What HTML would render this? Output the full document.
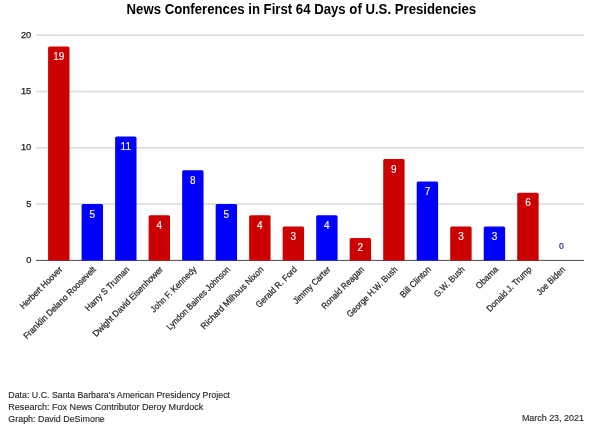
<!DOCTYPE html>
<html><head><meta charset="utf-8"><style>
html,body{margin:0;padding:0;background:#fff;}
body{width:600px;height:428px;overflow:hidden;position:relative;}
svg{position:absolute;left:0;top:0;will-change:transform;}
text{font-family:"Liberation Sans",sans-serif;}
.title{font-size:13.8px;font-weight:bold;fill:#000;}
.yl{font-size:9.3px;fill:#222;stroke:#222;stroke-width:0.25px;}
.vl{font-size:10px;fill:#fff;stroke:#fff;stroke-width:0.12px;}
.vl0{font-size:9.6px;fill:#50509c;font-weight:bold;}
.xl{font-size:8.9px;fill:#2a2a2a;stroke:#2a2a2a;stroke-width:0.25px;}
.ft{font-size:9.4px;fill:#2a2a2a;stroke:#2a2a2a;stroke-width:0.15px;}
</style></head><body>
<svg width="600" height="428" viewBox="0 0 600 428">
<text class="title" x="126.6" y="13.7" textLength="349.5" lengthAdjust="spacingAndGlyphs">News Conferences in First 64 Days of U.S. Presidencies</text>
<rect x="36" y="203.30" width="548" height="1.6" fill="#dcdcdc"/>
<rect x="36" y="147.00" width="548" height="1.6" fill="#dcdcdc"/>
<rect x="36" y="90.70" width="548" height="1.6" fill="#dcdcdc"/>
<rect x="36" y="34.40" width="548" height="1.6" fill="#dcdcdc"/>
<text class="yl" x="31.3" y="262.90" text-anchor="end">0</text>
<text class="yl" x="31.3" y="206.60" text-anchor="end">5</text>
<text class="yl" x="31.3" y="150.30" text-anchor="end">10</text>
<text class="yl" x="31.3" y="94.00" text-anchor="end">15</text>
<text class="yl" x="31.3" y="37.70" text-anchor="end">20</text>
<rect x="36" y="259.90" width="548" height="1" fill="#4a4a4a"/>
<path d="M48.10 260.60 V47.96 Q48.10 46.46 49.60 46.46 H68.00 Q69.50 46.46 69.50 47.96 V260.60 Z" fill="#cc0000"/>
<text class="vl" x="58.80" y="59.96" text-anchor="middle">19</text>
<text class="xl" x="63.00" y="270.00" text-anchor="end" textLength="56.00" lengthAdjust="spacingAndGlyphs" transform="rotate(-45 63.00 270.00)">Herbert Hoover</text>
<path d="M81.61 260.60 V205.60 Q81.61 204.10 83.11 204.10 H101.51 Q103.01 204.10 103.01 205.60 V260.60 Z" fill="#0000ff"/>
<text class="vl" x="92.31" y="217.60" text-anchor="middle">5</text>
<text class="xl" x="96.51" y="270.00" text-anchor="end" textLength="98.38" lengthAdjust="spacingAndGlyphs" transform="rotate(-45 96.51 270.00)">Franklin Delano Roosevelt</text>
<path d="M115.12 260.60 V138.04 Q115.12 136.54 116.62 136.54 H135.02 Q136.52 136.54 136.52 138.04 V260.60 Z" fill="#0000ff"/>
<text class="vl" x="125.82" y="150.04" text-anchor="middle">11</text>
<text class="xl" x="130.02" y="270.00" text-anchor="end" textLength="58.63" lengthAdjust="spacingAndGlyphs" transform="rotate(-45 130.02 270.00)">Harry S Truman</text>
<path d="M148.63 260.60 V216.86 Q148.63 215.36 150.13 215.36 H168.53 Q170.03 215.36 170.03 216.86 V260.60 Z" fill="#cc0000"/>
<text class="vl" x="159.33" y="228.86" text-anchor="middle">4</text>
<text class="xl" x="163.53" y="270.00" text-anchor="end" textLength="95.28" lengthAdjust="spacingAndGlyphs" transform="rotate(-45 163.53 270.00)">Dwight David Eisenhower</text>
<path d="M182.14 260.60 V171.82 Q182.14 170.32 183.64 170.32 H202.04 Q203.54 170.32 203.54 171.82 V260.60 Z" fill="#0000ff"/>
<text class="vl" x="192.84" y="183.82" text-anchor="middle">8</text>
<text class="xl" x="197.04" y="270.00" text-anchor="end" textLength="60.70" lengthAdjust="spacingAndGlyphs" transform="rotate(-45 197.04 270.00)">John F. Kennedy</text>
<path d="M215.65 260.60 V205.60 Q215.65 204.10 217.15 204.10 H235.55 Q237.05 204.10 237.05 205.60 V260.60 Z" fill="#0000ff"/>
<text class="vl" x="226.35" y="217.60" text-anchor="middle">5</text>
<text class="xl" x="230.55" y="270.00" text-anchor="end" textLength="85.47" lengthAdjust="spacingAndGlyphs" transform="rotate(-45 230.55 270.00)">Lyndon Baines Johnson</text>
<path d="M249.16 260.60 V216.86 Q249.16 215.36 250.66 215.36 H269.06 Q270.56 215.36 270.56 216.86 V260.60 Z" fill="#cc0000"/>
<text class="vl" x="259.86" y="228.86" text-anchor="middle">4</text>
<text class="xl" x="264.06" y="270.00" text-anchor="end" textLength="84.46" lengthAdjust="spacingAndGlyphs" transform="rotate(-45 264.06 270.00)">Richard Milhous Nixon</text>
<path d="M282.67 260.60 V228.12 Q282.67 226.62 284.17 226.62 H302.57 Q304.07 226.62 304.07 228.12 V260.60 Z" fill="#cc0000"/>
<text class="vl" x="293.37" y="240.12" text-anchor="middle">3</text>
<text class="xl" x="297.57" y="270.00" text-anchor="end" textLength="54.01" lengthAdjust="spacingAndGlyphs" transform="rotate(-45 297.57 270.00)">Gerald R. Ford</text>
<path d="M316.18 260.60 V216.86 Q316.18 215.36 317.68 215.36 H336.08 Q337.58 215.36 337.58 216.86 V260.60 Z" fill="#0000ff"/>
<text class="vl" x="326.88" y="228.86" text-anchor="middle">4</text>
<text class="xl" x="331.08" y="270.00" text-anchor="end" textLength="48.91" lengthAdjust="spacingAndGlyphs" transform="rotate(-45 331.08 270.00)">Jimmy Carter</text>
<path d="M349.69 260.60 V239.38 Q349.69 237.88 351.19 237.88 H369.59 Q371.09 237.88 371.09 239.38 V260.60 Z" fill="#cc0000"/>
<text class="vl" x="360.39" y="251.38" text-anchor="middle">2</text>
<text class="xl" x="364.59" y="270.00" text-anchor="end" textLength="56.04" lengthAdjust="spacingAndGlyphs" transform="rotate(-45 364.59 270.00)">Ronald Reagan</text>
<path d="M383.20 260.60 V160.56 Q383.20 159.06 384.70 159.06 H403.10 Q404.60 159.06 404.60 160.56 V260.60 Z" fill="#cc0000"/>
<text class="vl" x="393.90" y="172.56" text-anchor="middle">9</text>
<text class="xl" x="398.10" y="270.00" text-anchor="end" textLength="67.65" lengthAdjust="spacingAndGlyphs" transform="rotate(-45 398.10 270.00)">George H.W. Bush</text>
<path d="M416.71 260.60 V183.08 Q416.71 181.58 418.21 181.58 H436.61 Q438.11 181.58 438.11 183.08 V260.60 Z" fill="#0000ff"/>
<text class="vl" x="427.41" y="195.08" text-anchor="middle">7</text>
<text class="xl" x="431.61" y="270.00" text-anchor="end" textLength="39.82" lengthAdjust="spacingAndGlyphs" transform="rotate(-45 431.61 270.00)">Bill Clinton</text>
<path d="M450.22 260.60 V228.12 Q450.22 226.62 451.72 226.62 H470.12 Q471.62 226.62 471.62 228.12 V260.60 Z" fill="#cc0000"/>
<text class="vl" x="460.92" y="240.12" text-anchor="middle">3</text>
<text class="xl" x="465.12" y="270.00" text-anchor="end" textLength="39.12" lengthAdjust="spacingAndGlyphs" transform="rotate(-45 465.12 270.00)">G.W. Bush</text>
<path d="M483.73 260.60 V228.12 Q483.73 226.62 485.23 226.62 H503.63 Q505.13 226.62 505.13 228.12 V260.60 Z" fill="#0000ff"/>
<text class="vl" x="494.43" y="240.12" text-anchor="middle">3</text>
<text class="xl" x="498.63" y="270.00" text-anchor="end" textLength="27.53" lengthAdjust="spacingAndGlyphs" transform="rotate(-45 498.63 270.00)">Obama</text>
<path d="M517.24 260.60 V194.34 Q517.24 192.84 518.74 192.84 H537.14 Q538.64 192.84 538.64 194.34 V260.60 Z" fill="#cc0000"/>
<text class="vl" x="527.94" y="206.34" text-anchor="middle">6</text>
<text class="xl" x="532.14" y="270.00" text-anchor="end" textLength="59.75" lengthAdjust="spacingAndGlyphs" transform="rotate(-45 532.14 270.00)">Donald J. Trump</text>
<text class="vl0" x="561.45" y="248.90" text-anchor="middle">0</text>
<text class="xl" x="565.65" y="270.00" text-anchor="end" textLength="36.39" lengthAdjust="spacingAndGlyphs" transform="rotate(-45 565.65 270.00)">Joe Biden</text>
<text class="ft" x="8.3" y="398.4" textLength="221.7" lengthAdjust="spacingAndGlyphs">Data: U.C. Santa Barbara's American Presidency Project</text>
<text class="ft" x="8.3" y="410.1" textLength="195" lengthAdjust="spacingAndGlyphs">Research: Fox News Contributor Deroy Murdock</text>
<text class="ft" x="8.3" y="422.2" textLength="96.5" lengthAdjust="spacingAndGlyphs">Graph: David DeSimone</text>
<text class="ft" x="521.9" y="420.9" textLength="62" lengthAdjust="spacingAndGlyphs">March 23, 2021</text>
</svg>
</body></html>
